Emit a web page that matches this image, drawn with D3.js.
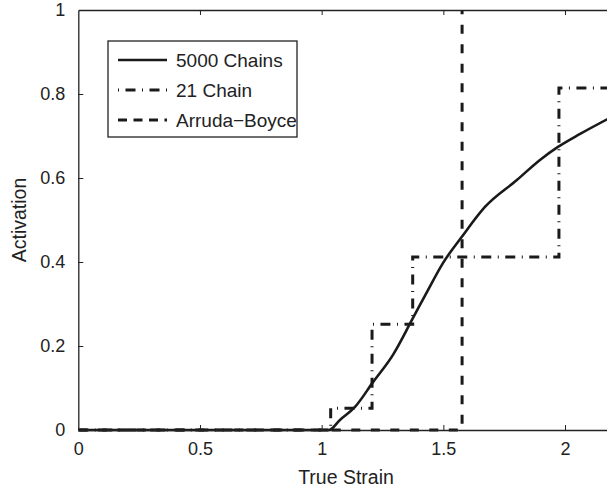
<!DOCTYPE html>
<html>
<head>
<meta charset="utf-8">
<script src="https://cdn.jsdelivr.net/npm/d3@7"></script>
<style>
  body { margin: 0; background: #fff; }
  text { font-family: "Liberation Sans", Arial, Helvetica, sans-serif; fill: #222; }
</style>
</head>
<body>
<div id="chart"></div>
<script>
// 5000 chains model (smooth curve)
const strain5000 = [0, 1.03, 1.075, 1.137, 1.211, 1.293, 1.371, 1.433, 1.499, 1.576, 1.671, 1.802, 1.897, 1.971, 2.062, 2.2];
const act5000 = [0, 0, 0.024, 0.055, 0.114, 0.179, 0.262, 0.329, 0.398, 0.46, 0.531, 0.595, 0.643, 0.674, 0.705, 0.748];

// 21 chain model (step function)
const strain21 = [0, 1.037, 1.207, 1.374, 1.975, 2.2];
const act21 = [0, 0.052, 0.252, 0.412, 0.814, 0.814];

// Arruda-Boyce (jump at locking stretch)
const strainAB = [0, 1.577, 1.577];
const actAB = [0, 0, 1];

const xTicks = [0, 0.5, 1, 1.5, 2];
const yTicks = [0, 0.2, 0.4, 0.6, 0.8, 1];
const legendLabels = ["5000 Chains", "21 Chain", "Arruda\u2212Boyce"];

const width = 607, height = 492;
const margin = { top: 10, left: 78.3 };
const plotW = 535.4, plotH = 420;

const svg = d3.select("#chart").append("svg")
  .attr("width", width)
  .attr("height", height);

const x = d3.scaleLinear().domain([0, 2.2]).range([margin.left, margin.left + plotW]);
const y = d3.scaleLinear().domain([0, 1]).range([margin.top + plotH, margin.top]);

svg.append("defs").append("clipPath").attr("id", "clip")
  .append("rect")
  .attr("x", margin.left).attr("y", margin.top - 2)
  .attr("width", plotW).attr("height", plotH + 4);

const plot = svg.append("g").attr("clip-path", "url(#clip)");

const zip = (xs, ys) => xs.map((v, i) => [v, ys[i]]);

// Arruda-Boyce dashed
plot.append("path")
  .datum(zip(strainAB, actAB))
  .attr("fill", "none")
  .attr("stroke", "#1a1a1a")
  .attr("stroke-width", 3)
  .attr("stroke-dasharray", "9,10.5")
  .attr("d", d3.line().x(d => x(d[0])).y(d => y(d[1])));

// 21 chain dash-dot
plot.append("path")
  .datum(zip(strain21, act21))
  .attr("fill", "none")
  .attr("stroke", "#1a1a1a")
  .attr("stroke-width", 3)
  .attr("stroke-dasharray", "10,6.5,1,6.5")
  .attr("d", d3.line().curve(d3.curveStepAfter).x(d => x(d[0])).y(d => y(d[1])));

// 5000 chains solid
plot.append("path")
  .datum(zip(strain5000, act5000))
  .attr("fill", "none")
  .attr("stroke", "#1a1a1a")
  .attr("stroke-width", 2.6)
  .attr("d", d3.line().curve(d3.curveMonotoneX).x(d => x(d[0])).y(d => y(d[1])));

// Axes box
const axisColor = "#222";
const xBottom = svg.append("g")
  .attr("transform", `translate(0,${margin.top + plotH})`)
  .call(d3.axisBottom(x).tickValues(xTicks).tickSizeInner(-5).tickSizeOuter(0).tickPadding(12)
    .tickFormat(d3.format("")));
const xTop = svg.append("g")
  .attr("transform", `translate(0,${margin.top})`)
  .call(d3.axisTop(x).tickValues(xTicks).tickSizeInner(-5).tickSizeOuter(0).tickFormat(""));
const yLeft = svg.append("g")
  .attr("transform", `translate(${margin.left},0)`)
  .call(d3.axisLeft(y).tickValues(yTicks).tickSizeInner(-5).tickSizeOuter(0).tickPadding(13)
    .tickFormat(d3.format("")));

[xBottom, xTop, yLeft].forEach(g => {
  g.select(".domain").attr("stroke", axisColor).attr("stroke-width", 1.3);
  g.selectAll(".tick line").attr("stroke", axisColor).attr("stroke-width", 1);
  g.selectAll(".tick text")
    .style("font-size", "18px")
    .style("font-family", '"Liberation Sans", Arial, sans-serif')
    .attr("fill", "#222");
});
// remove the 0 / 1 tick marks sitting on the box corners
xBottom.selectAll(".tick").filter(d => d === 0).select("line").remove();
xTop.selectAll(".tick").filter(d => d === 0).select("line").remove();
yLeft.selectAll(".tick").filter(d => d === 0 || d === 1).select("line").remove();

// Axis labels
svg.append("text")
  .attr("x", margin.left + plotW / 2)
  .attr("y", 484)
  .attr("text-anchor", "middle")
  .style("font-size", "19.5px")
  .text("True Strain");

svg.append("text")
  .attr("transform", `translate(26,${margin.top + plotH / 2}) rotate(-90)`)
  .attr("text-anchor", "middle")
  .style("font-size", "19.5px")
  .text("Activation");

// Legend
const legend = svg.append("g");
legend.append("rect")
  .attr("x", 108).attr("y", 41)
  .attr("width", 189).attr("height", 96)
  .attr("fill", "#fff")
  .attr("stroke", axisColor)
  .attr("stroke-width", 1.3);

const legendStyles = [
  { dash: null, w: 2.6 },
  { dash: "1,6.5,10,6.5", w: 3 },
  { dash: "9,6.5", w: 3 }
];
const rowY = [60, 90, 120];
legendLabels.forEach((lab, i) => {
  legend.append("line")
    .attr("x1", 118).attr("x2", 167)
    .attr("y1", rowY[i]).attr("y2", rowY[i])
    .attr("stroke", "#1a1a1a")
    .attr("stroke-width", legendStyles[i].w)
    .attr("stroke-dasharray", legendStyles[i].dash);
  legend.append("text")
    .attr("x", 176)
    .attr("y", rowY[i])
    .attr("dy", "0.35em")
    .style("font-size", "19px")
    .text(lab);
});
</script>
</body>
</html>
